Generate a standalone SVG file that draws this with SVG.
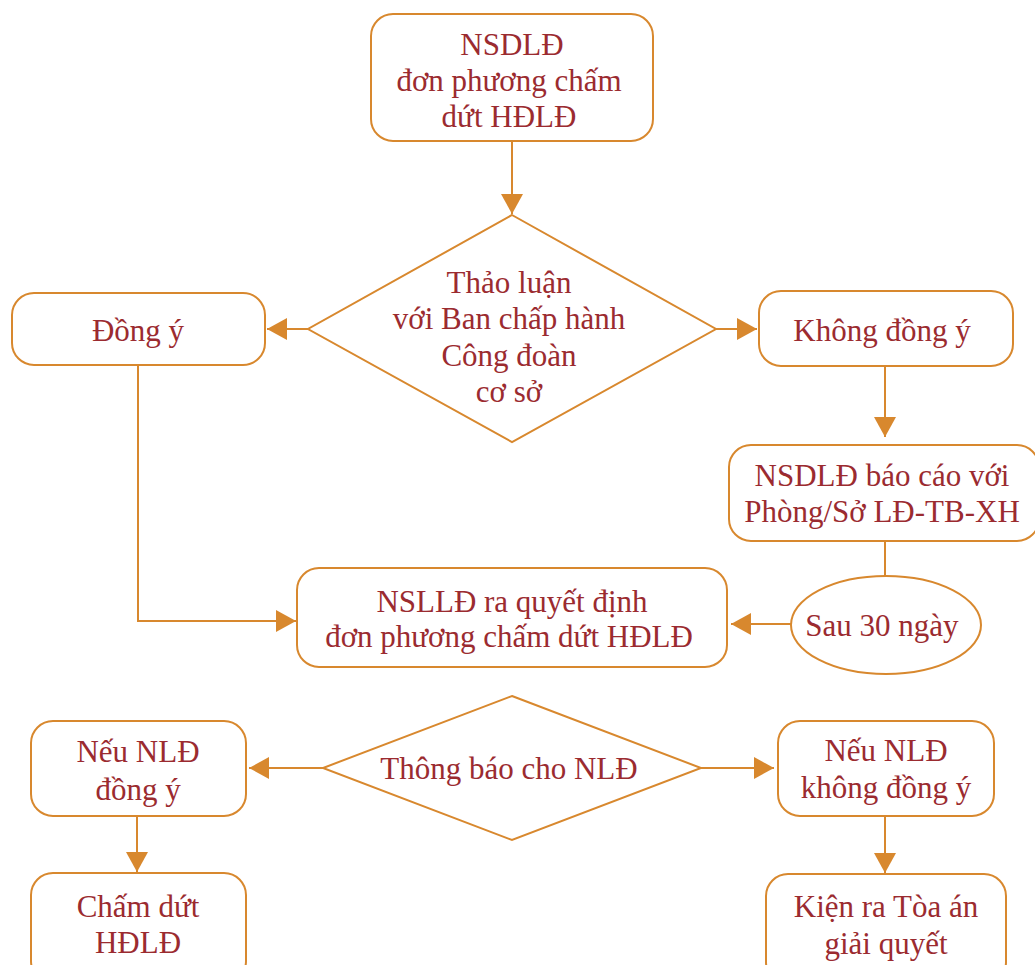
<svg xmlns="http://www.w3.org/2000/svg" width="1035" height="965" viewBox="0 0 1035 965">
<defs>
<style>
.box{fill:#fff;stroke:#D8882E;stroke-width:2}
.con{fill:none;stroke:#D8882E;stroke-width:2}
text{font-family:"Liberation Serif","Times New Roman",serif;font-size:31px;fill:#9B2B30;text-anchor:middle;dominant-baseline:central}
</style>
<marker id="ah" markerUnits="userSpaceOnUse" markerWidth="24" markerHeight="24" refX="20" refY="11" orient="auto">
<path d="M0,0 L20,11 L0,22 Z" fill="#D8882E"/>
</marker>
</defs>
<rect width="1035" height="965" fill="#fff"/>
<g id="connectors">
<path class="con" d="M512,141 V214" marker-end="url(#ah)"/>
<path class="con" d="M308,329 H267" marker-end="url(#ah)"/>
<path class="con" d="M716,329 H757" marker-end="url(#ah)"/>
<path class="con" d="M885,366 V437" marker-end="url(#ah)"/>
<path class="con" d="M885,541 V577"/>
<path class="con" d="M791,624 H731" marker-end="url(#ah)"/>
<path class="con" d="M138,365 V621 H296" marker-end="url(#ah)"/>
<path class="con" d="M323,768 H249" marker-end="url(#ah)"/>
<path class="con" d="M701,768 H774" marker-end="url(#ah)"/>
<path class="con" d="M137,816 V872" marker-end="url(#ah)"/>
<path class="con" d="M885,816 V873" marker-end="url(#ah)"/>
</g>
<g id="n1">
<rect class="box" x="371" y="14" width="282" height="127" rx="22"/>
<text x="512" y="44">NSDLĐ</text>
<text x="509" y="80">đơn phương chấm</text>
<text x="509" y="116">dứt HĐLĐ</text>
</g>
<g id="n2">
<polygon class="box" points="512,215 716,329 512,442 308,329"/>
<text x="509" y="282">Thảo luận</text>
<text x="509" y="318">với Ban chấp hành</text>
<text x="509" y="355">Công đoàn</text>
<text x="509" y="391">cơ sở</text>
</g>
<g id="n3">
<rect class="box" x="12" y="293" width="253" height="72" rx="22"/>
<text x="138" y="330">Đồng ý</text>
</g>
<g id="n4">
<rect class="box" x="759" y="291" width="254" height="75" rx="22"/>
<text x="882" y="330">Không đồng ý</text>
</g>
<g id="n5">
<rect class="box" x="729" y="445" width="310" height="96" rx="22"/>
<text x="882" y="475">NSDLĐ báo cáo với</text>
<text x="882" y="511">Phòng/Sở LĐ-TB-XH</text>
</g>
<g id="n6">
<ellipse class="box" cx="886" cy="625" rx="95" ry="49"/>
<text x="882" y="625">Sau 30 ngày</text>
</g>
<g id="n7">
<rect class="box" x="297" y="568" width="430" height="99" rx="22"/>
<text x="512" y="601">NSLLĐ ra quyết định</text>
<text x="509" y="636">đơn phương chấm dứt HĐLĐ</text>
</g>
<g id="n8">
<polygon class="box" points="512,696 701,768 512,840 323,768"/>
<text x="509" y="768">Thông báo cho NLĐ</text>
</g>
<g id="n9">
<rect class="box" x="31" y="721" width="215" height="95" rx="22"/>
<text x="138" y="751">Nếu NLĐ</text>
<text x="138" y="789">đồng ý</text>
</g>
<g id="n10">
<rect class="box" x="31" y="873" width="215" height="110" rx="22"/>
<text x="138" y="906">Chấm dứt</text>
<text x="138" y="942">HĐLĐ</text>
</g>
<g id="n11">
<rect class="box" x="778" y="721" width="216" height="95" rx="22"/>
<text x="886" y="750">Nếu NLĐ</text>
<text x="886" y="787">không đồng ý</text>
</g>
<g id="n12">
<rect class="box" x="766" y="874" width="240" height="110" rx="22"/>
<text x="886" y="906">Kiện ra Tòa án</text>
<text x="886" y="943">giải quyết</text>
</g>
</svg>
